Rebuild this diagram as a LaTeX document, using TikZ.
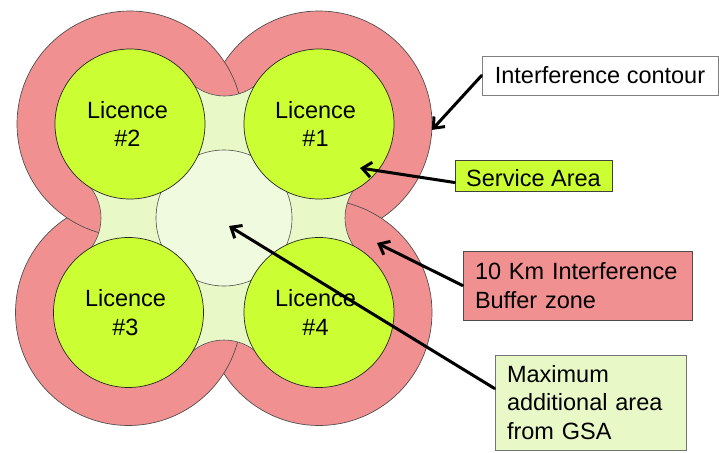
\documentclass[tikz,border=0pt]{standalone}
\usepackage{fontspec}
\setmainfont{Liberation Sans}
\usetikzlibrary{arrows.meta}

\definecolor{buffer}{RGB}{241,144,144}
\definecolor{gap}{RGB}{232,248,198}
\definecolor{core}{RGB}{240,250,222}
\definecolor{lime}{RGB}{204,255,51}
\definecolor{rim}{RGB}{80,80,80}

\begin{document}
\begin{tikzpicture}[x=1pt, y=-1pt,
  redzone/.style={circle, minimum size=226pt, inner sep=0pt, outer sep=0pt,
    draw=rim, line width=0.7pt, fill=buffer},
  corezone/.style={circle, minimum size=136pt, inner sep=0pt, outer sep=0pt,
    draw=rim, line width=0.6pt, fill=core},
  servicezone/.style={circle, minimum size=150pt, inner sep=0pt, outer sep=0pt,
    draw=black!85, line width=0.7pt, fill=lime},
  lbl/.style={font=\fontsize{23.5pt}{28.5pt}\selectfont, align=center, inner sep=0pt},
  tag/.style={font=\fontsize{23.5pt}{28.5pt}\selectfont, align=left, line width=0.8pt,
    inner ysep=0pt},
  pointer/.style={line width=3pt, line cap=round, -{Straight Barb[length=9pt, width=15pt]}}]

\useasboundingbox (0,0) rectangle (719,452);

% centres of the four service areas and of the buffer bulges between them
\coordinate (c1) at (319,124);
\coordinate (c2) at (130,124);
\coordinate (c3) at (128.5,312.5);
\coordinate (c4) at (319,312.5);
\coordinate (bT) at (224.5,46);
\coordinate (bR) at (395,218);
\coordinate (bB) at (224,390);
\coordinate (bL) at (51,218);

% interference contours
\node[redzone] (red1) at (c1) {};
\node[redzone] (red4) at (c4) {};
\node[redzone] (red3) at (c3) {};
\node[redzone] (red2) at (c2) {};

% area between the licences, bounded by the buffer bulges
\begin{scope}
  \clip (c2) -- (bT) -- (c1) -- (bR) -- (c4) -- (bB) -- (c3) -- (bL) -- cycle;
  \fill[gap, even odd rule] (-60,-60) rectangle (520,520)
    (bT) circle[radius=50] (bR) circle[radius=50]
    (bB) circle[radius=50] (bL) circle[radius=50];
  \draw[rim, line width=0.6pt]
    (bT) circle[radius=50] (bR) circle[radius=50]
    (bB) circle[radius=50] (bL) circle[radius=50];
\end{scope}

% central area
\node[corezone] (core) at (224,218) {};

% service areas
\node[servicezone] (sa1) at (c1) {};
\node[servicezone] (sa2) at (c2) {};
\node[servicezone] (sa3) at (c3) {};
\node[servicezone] (sa4) at (c4) {};

\node[lbl] (l1) at (315.5,124) {Licence\\\#1};
\node[lbl] (l2) at (127.5,124) {Licence\\\#2};
\node[lbl] (l3) at (125.5,312.5) {Licence\\\#3};
\node[lbl] (l4) at (315.5,312.5) {Licence\\\#4};

% legend boxes
\node[tag, draw=black!50, fill=white, inner xsep=10pt, minimum width=236pt,
  minimum height=39pt] (ic) at (600,75.5) {Interference contour};
\node[tag, draw=black!75, fill=lime, inner xsep=8pt, minimum width=157pt,
  minimum height=31pt] (sa) at (533.5,175.5) {\raisebox{-2.5pt}[\height][\depth]{Service Area}};
\node[tag, draw=black!70, fill=buffer, text width=205pt, inner xsep=12pt,
  minimum height=69pt] (bz) at (577.5,285.5) {10 Km Interference\\Buffer zone};
\node[tag, draw=black!55, fill=gap, text width=167pt, inner xsep=12pt,
  minimum height=95pt] (gsa) at (590.5,402.5) {Maximum\\additional area\\from GSA};

% arrow targets
\coordinate (saTip) at (360,168);
\coordinate (bzTip) at (377,243);
\coordinate (gsaTip) at (229,226);

\draw[pointer] (ic.west) -- (red1.-3);
\draw[pointer] ([yshift=-7pt]sa.west) -- (saTip);
\draw[pointer] (bz.west) -- (bzTip);
\draw[pointer] ([yshift=14pt]gsa.west) -- (gsaTip);

\end{tikzpicture}
\end{document}
